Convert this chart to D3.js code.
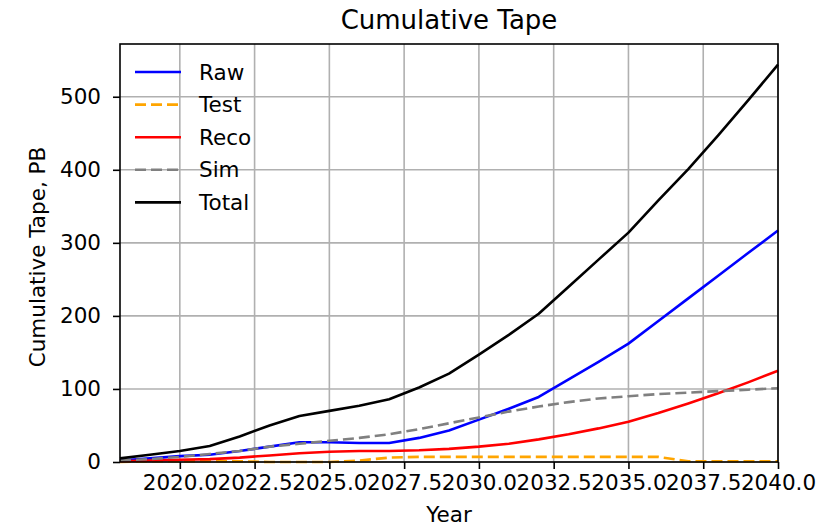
<!DOCTYPE html>
<html lang="en">
<head>
  <meta charset="UTF-8">
  <title>Cumulative Tape</title>
  <script src="https://cdn.jsdelivr.net/npm/d3@7"></script>
  <style>
    body { margin: 0; background: #fff; }
    text { font-family: "DejaVu Sans", sans-serif; fill: #000; }
  </style>
</head>
<body>
  <script>
    // years and cumulative tape per category (PB)
    const years = [2018, 2019, 2020, 2021, 2022, 2023, 2024, 2025, 2026, 2027, 2028,
                   2029, 2030, 2031, 2032, 2033, 2034, 2035, 2036, 2037, 2038, 2039, 2040];
    const raw   = [2, 5, 8, 10, 15, 21, 27, 27, 26, 26, 33, 43, 58, 73, 89, 113, 137, 162, 193, 224, 255, 286, 317];
    const test  = [0, 1, 1, 1, 1, 0, 0, 0, 2, 6, 7, 7, 7, 7, 7, 7, 7, 7, 7, 1, 1, 1, 1];
    const reco  = [1, 2, 3, 4, 6, 9, 12, 14, 15, 15, 16, 18, 21, 25, 31, 38, 46, 55, 67, 80, 94, 109, 125];
    const sim   = [2, 4, 7, 11, 15, 21, 25, 29, 33, 38, 45, 53, 61, 69, 76, 82, 87, 90, 93, 95, 97, 99, 101];
    const total = [5, 10, 15, 22, 35, 50, 63, 70, 77, 86, 102, 121, 147, 174, 203, 240, 277, 314, 358, 401, 447, 495, 544];

    const xTicks = [2020, 2022.5, 2025, 2027.5, 2030, 2032.5, 2035, 2037.5, 2040];
    const yTicks = [0, 100, 200, 300, 400, 500];

    const series = [
      {name: 'Raw',   values: raw,   color: '#0000ff', dash: null},
      {name: 'Test',  values: test,  color: '#ffa500', dash: '11,5'},
      {name: 'Reco',  values: reco,  color: '#ff0000', dash: null},
      {name: 'Sim',   values: sim,   color: '#808080', dash: '11,5'},
      {name: 'Total', values: total, color: '#000000', dash: null}
    ];

    const W = 825, H = 527;
    const pL = 120, pR = 778, pT = 44, pB = 462;
    const fs = 21.5;

    const svg = d3.select('body').append('svg')
      .attr('width', W).attr('height', H);

    const x = d3.scaleLinear().domain([2018, 2040]).range([pL, pR]);
    const y = d3.scaleLinear().domain([0, 572.2]).range([pB, pT]);

    // grid
    const grid = svg.append('g');
    xTicks.forEach(t => {
      grid.append('line')
        .attr('x1', x(t)).attr('x2', x(t)).attr('y1', pT).attr('y2', pB)
        .attr('stroke', '#b0b0b0').attr('stroke-width', 1.6);
    });
    yTicks.forEach(t => {
      grid.append('line')
        .attr('x1', pL).attr('x2', pR).attr('y1', y(t)).attr('y2', y(t))
        .attr('stroke', '#b0b0b0').attr('stroke-width', 1.6);
    });

    // lines
    const lineGen = d3.line()
      .x((d, i) => x(years[i]))
      .y(d => y(d));

    series.forEach(s => {
      svg.append('path')
        .attr('d', lineGen(s.values))
        .attr('fill', 'none')
        .attr('stroke', s.color)
        .attr('stroke-width', 2.6)
        .attr('stroke-linejoin', 'round')
        .attr('stroke-dasharray', s.dash);
    });

    // axes
    const xAxis = d3.axisBottom(x).tickValues(xTicks)
      .tickFormat(d3.format('.1f')).tickSize(7).tickPadding(6);
    const gx = svg.append('g').attr('transform', `translate(0,${pB})`).call(xAxis);
    gx.select('.domain').remove();
    gx.selectAll('.tick line').attr('stroke', '#000').attr('stroke-width', 1.6);
    gx.selectAll('text').style('font-size', fs + 'px').attr('fill', '#000');

    const yAxis = d3.axisLeft(y).tickValues(yTicks).tickSize(7).tickPadding(12);
    const gy = svg.append('g').attr('transform', `translate(${pL},0)`).call(yAxis);
    gy.select('.domain').remove();
    gy.selectAll('.tick line').attr('stroke', '#000').attr('stroke-width', 1.6);
    gy.selectAll('text').style('font-size', fs + 'px').attr('fill', '#000');

    // frame
    svg.append('rect')
      .attr('x', pL).attr('y', pT)
      .attr('width', pR - pL).attr('height', pB - pT)
      .attr('fill', 'none').attr('stroke', '#000').attr('stroke-width', 1.6);

    // titles
    svg.append('text')
      .attr('x', (pL + pR) / 2).attr('y', 29)
      .attr('text-anchor', 'middle')
      .style('font-size', '26px')
      .text('Cumulative Tape');

    svg.append('text')
      .attr('x', (pL + pR) / 2).attr('y', 522)
      .attr('text-anchor', 'middle')
      .style('font-size', fs + 'px')
      .text('Year');

    svg.append('text')
      .attr('transform', `translate(45,${(pT + pB) / 2 + 4}) rotate(-90)`)
      .attr('text-anchor', 'middle')
      .style('font-size', fs + 'px')
      .text('Cumulative Tape, PB');

    // legend (no frame)
    const legend = svg.append('g');
    series.forEach((s, i) => {
      const ly = 72 + i * 32.6;
      legend.append('line')
        .attr('x1', 135).attr('x2', 181).attr('y1', ly).attr('y2', ly)
        .attr('stroke', s.color).attr('stroke-width', 2.6)
        .attr('stroke-dasharray', s.dash);
      legend.append('text')
        .attr('x', 199).attr('y', ly)
        .attr('dominant-baseline', 'central')
        .style('font-size', fs + 'px')
        .text(s.name);
    });
  </script>
</body>
</html>
